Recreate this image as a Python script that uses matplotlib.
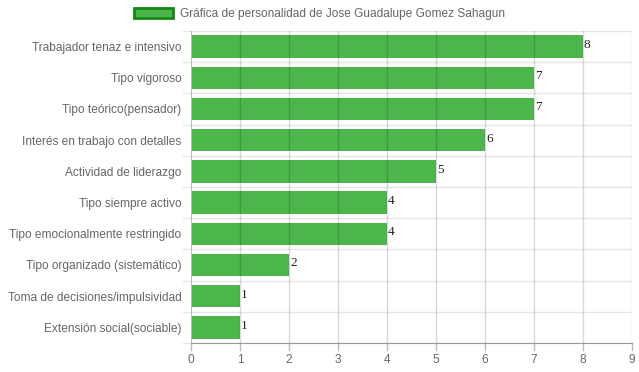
import matplotlib.pyplot as plt
import numpy as np
from matplotlib.patches import Patch

categorias = ["Trabajador tenaz e intensivo", "Tipo vigoroso", "Tipo teórico(pensador)",
              "Interés en trabajo con detalles", "Actividad de liderazgo", "Tipo siempre activo",
              "Tipo emocionalmente restringido", "Tipo organizado (sistemático)",
              "Toma de decisiones/impulsividad", "Extensión social(sociable)"]
valores = [8, 7, 7, 6, 5, 4, 4, 2, 1, 1]
titulo = "Gráfica de personalidad de Jose Guadalupe Gomez Sahagun"

verde = "#4cb54c"
gris = "#666666"

plt.rcParams['font.family'] = ['Liberation Sans', 'DejaVu Sans']
fig = plt.figure(figsize=(6.39, 3.72), dpi=100)
ax = fig.add_axes([191/639, 1 - 343/372, 441/639, 312/372])

y = np.arange(len(categorias))
ax.barh(y, valores, height=0.72, color=verde, zorder=2)
for yi, v in zip(y, valores):
    ax.text(v + 0.02, yi - 0.05, str(v), va='center', ha='left', fontsize=9.5,
            family='Liberation Serif', color='#222222', zorder=4)

ax.set_xlim(0, 9)
ax.set_ylim(len(categorias) - 0.5, -0.5)
ax.set_xticks(range(10))
ax.set_yticks(y)
ax.set_yticklabels(categorias)
ax.tick_params(axis='both', colors=gris, labelsize=8.6, length=0)
ax.tick_params(axis='y', pad=7)
ax.tick_params(axis='x', pad=8)

# gridlines
for xv in range(1, 10):
    ax.axvline(xv, color='black', alpha=0.15, lw=1, zorder=3)
for b in np.arange(-0.5, len(categorias), 1):
    ax.axhline(b, color='#e6e6e6', lw=1, zorder=1)
    ax.plot([-0.17, 0], [b, b], color='#e6e6e6', lw=1, clip_on=False)
for xv in range(10):
    ax.plot([xv, xv], [len(categorias) - 0.5, len(categorias) - 0.5 + 0.22],
            color='#bbbbbb', lw=1, clip_on=False)

for s in ['top', 'right']:
    ax.spines[s].set_visible(False)
ax.spines['left'].set_color('#bbbbbb')
ax.spines['bottom'].set_color('#999999')

fig.legend(handles=[Patch(facecolor=verde, edgecolor='#138a13', lw=2)], labels=[titulo],
           loc='center', bbox_to_anchor=(0.5, 1 - 14/372), frameon=False,
           fontsize=8.6, labelcolor=gris, handlelength=3.2, handleheight=0.9, handletextpad=0.6)

fig.savefig("out.png", dpi=100)
